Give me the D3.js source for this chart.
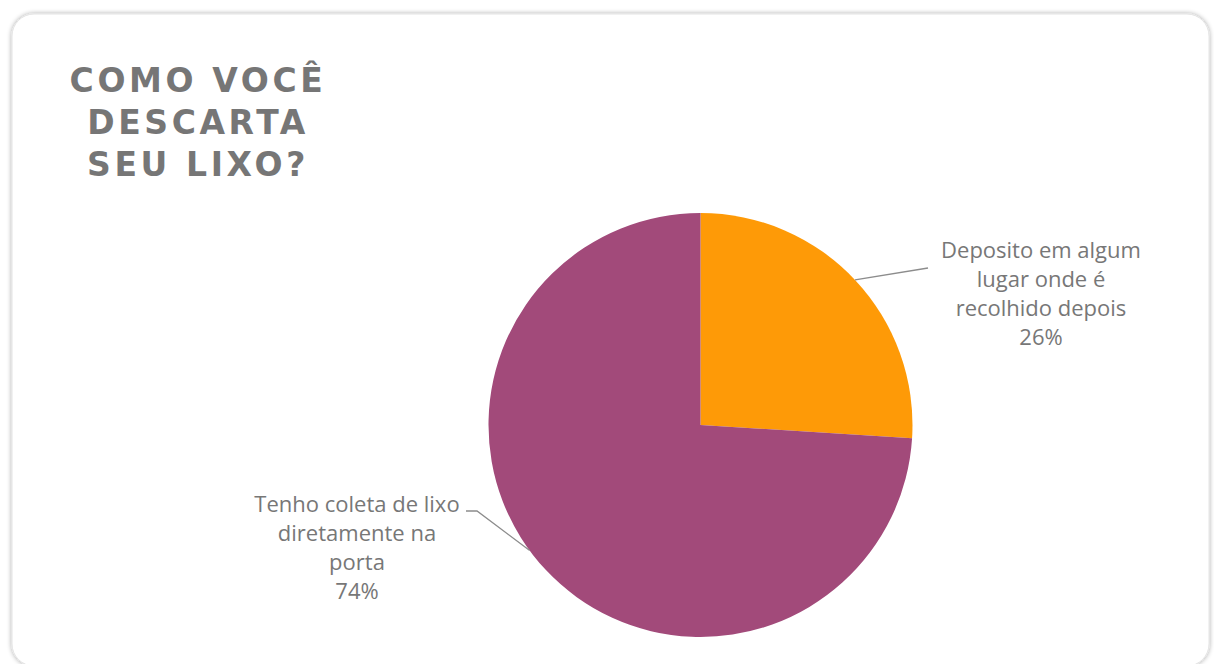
<!DOCTYPE html>
<html>
<head>
<meta charset="utf-8">
<script src="https://cdn.jsdelivr.net/npm/d3@7"></script>
<style>
  html, body { margin: 0; padding: 0; background: #ffffff; }
  svg { display: block; }
</style>
</head>
<body>
<svg id="chart" width="1214" height="664"></svg>
<script>
// ---- data ----
const titleLines = ["COMO VOCÊ", "DESCARTA", "SEU LIXO?"];
const categories = ["Deposito em algum lugar onde é recolhido depois", "Tenho coleta de lixo diretamente na porta"];
const categoryLines = [["Deposito em algum", "lugar onde é", "recolhido depois"], ["Tenho coleta de lixo", "diretamente na", "porta"]];
const values = [26, 74];
const colors = ["#FE9A07", "#A24A7A"];

// ---- layout ----
const W = 1214, H = 664;
const cx = 700.5, cy = 425, R = 212;
const svg = d3.select("#chart");

const defs = svg.append("defs");
const f = defs.append("filter").attr("id", "shadow").attr("x", "-5%").attr("y", "-5%").attr("width", "110%").attr("height", "110%");
f.append("feGaussianBlur").attr("in", "SourceAlpha").attr("stdDeviation", 2.5);
f.append("feComponentTransfer").append("feFuncA").attr("type", "linear").attr("slope", 0.35);
const m = f.append("feMerge");
m.append("feMergeNode");
m.append("feMergeNode").attr("in", "SourceGraphic");

// card
svg.append("rect")
  .attr("x", 12).attr("y", 14).attr("width", 1197).attr("height", 652)
  .attr("rx", 22).attr("ry", 22)
  .attr("fill", "#ffffff").attr("stroke", "#e4e4e4").attr("stroke-width", 1)
  .attr("filter", "url(#shadow)");

// title
const title = svg.append("text")
  .attr("text-anchor", "middle")
  .attr("font-family", "DejaVu Sans, Verdana, sans-serif")
  .attr("font-weight", "bold")
  .attr("font-size", 33)
  .attr("letter-spacing", 3.6)
  .attr("fill", "#767676");
titleLines.forEach((t, i) => {
  title.append("tspan").attr("x", 198).attr("y", 92 + i * 42).text(t);
});

// pie
const pie = d3.pie().sort(null).value(d => d)(values);
const arc = d3.arc().innerRadius(0).outerRadius(R);
const g = svg.append("g").attr("transform", `translate(${cx},${cy})`);

// leader lines
const labelPos = [
  { x: 1041, y: 258, anchor: [928, 268], elbow: null, shift: 0 },
  { x: 357, y: 512, anchor: [466, 511], elbow: [477, 511], shift: 0.12 }
];
pie.forEach((p, i) => {
  const a = (p.startAngle + p.endAngle) / 2 + labelPos[i].shift;
  const pts = [labelPos[i].anchor];
  if (labelPos[i].elbow) pts.push(labelPos[i].elbow);
  pts.push([cx + R * Math.sin(a), cy - R * Math.cos(a)]);
  svg.append("path")
    .attr("d", d3.line()(pts))
    .attr("fill", "none").attr("stroke", "#8c8c8c").attr("stroke-width", 1.3);
});

g.selectAll("path.slice").data(pie).enter().append("path")
  .attr("class", "slice")
  .attr("d", arc)
  .attr("fill", (d, i) => colors[i]);

// labels
const total = d3.sum(values);
pie.forEach((p, i) => {
  const t = svg.append("text")
    .attr("text-anchor", "middle")
    .attr("font-family", "'Open Sans', Lato, sans-serif")
    .attr("font-size", 22)
    .attr("fill", "#777777");
  const lines = categoryLines[i].concat([Math.round(values[i] / total * 100) + "%"]);
  lines.forEach((l, k) => {
    t.append("tspan").attr("x", labelPos[i].x).attr("y", labelPos[i].y + k * 29).text(l);
  });
});
</script>
</body>
</html>
